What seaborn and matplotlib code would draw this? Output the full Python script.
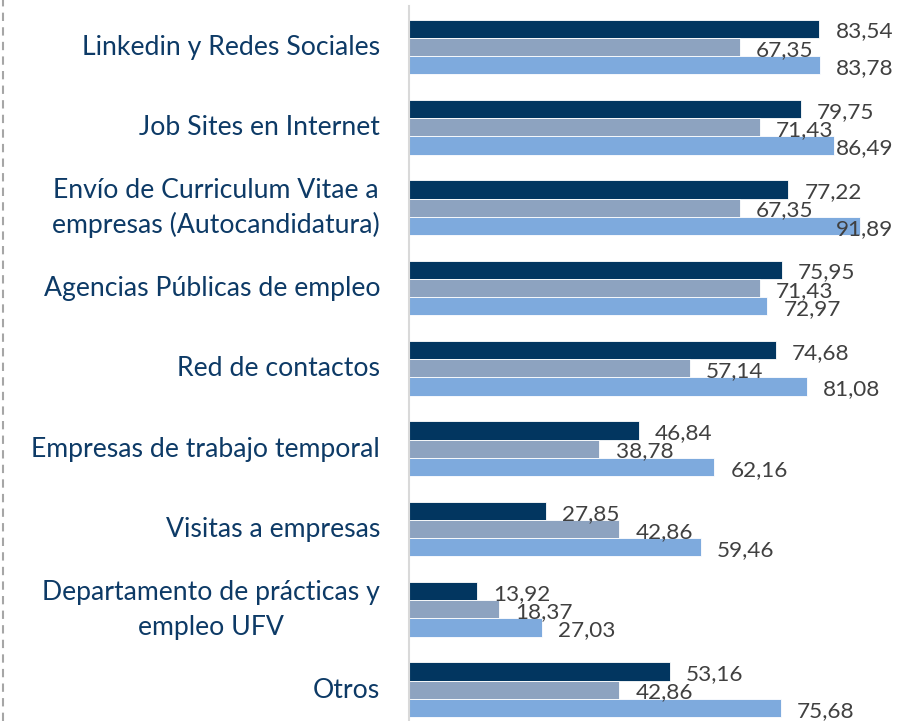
import numpy as np
import pandas as pd
import seaborn as sns
import matplotlib.pyplot as plt
import matplotlib.transforms as mtransforms
from matplotlib.lines import Line2D

# data
categorias = ['Linkedin y Redes Sociales', 'Job Sites en Internet',
              'Envío de Curriculum Vitae a\nempresas (Autocandidatura)',
              'Agencias Públicas de empleo', 'Red de contactos',
              'Empresas de trabajo temporal', 'Visitas a empresas',
              'Departamento de prácticas y\nempleo UFV', 'Otros']
serie_1 = [83.54, 79.75, 77.22, 75.95, 74.68, 46.84, 27.85, 13.92, 53.16]
serie_2 = [67.35, 71.43, 67.35, 71.43, 57.14, 38.78, 42.86, 18.37, 42.86]
serie_3 = [83.78, 86.49, 91.89, 72.97, 81.08, 62.16, 59.46, 27.03, 75.68]
series = ['Serie 1', 'Serie 2', 'Serie 3']

df = pd.DataFrame({'categoria': categorias * 3,
                   'valor': serie_1 + serie_2 + serie_3,
                   'serie': np.repeat(series, len(categorias))})

colores = ['#023660', '#8DA3C0', '#7EAADD']

fig = plt.figure(figsize=(9.01, 7.21), dpi=100)
ax = fig.add_axes([409 / 901, 0, 491 / 901, 715 / 721])

sns.barplot(data=df, y='categoria', x='valor', hue='serie', order=categorias,
            hue_order=series, palette=colores, width=0.68, orient='h',
            legend=False, ax=ax, errorbar=None, saturation=1)

# value labels, kept inside the plot area like Excel does
for cont in ax.containers:
    for b, v in zip(cont, cont.datavalues):
        b.set_edgecolor('white')
        b.set_linewidth(0.6)
        y = b.get_y() + b.get_height() / 2 + 0.035
        x = min(v + 3.3, 87.0)
        ax.text(x, y, f'{v:.2f}'.replace('.', ','), ha='left', va='center',
                fontsize=16.2, color='#404040', family='Lato')

ax.set_xlim(0, 100)
ax.set_ylim(8.39, -0.51)
ax.set_xlabel('')
ax.set_ylabel('')
ax.set_xticks([])
ax.set_yticks(range(len(categorias)), labels=[''] * len(categorias))
ax.tick_params(axis='y', length=0)

# category labels: each line centered, block right aligned 29 px left of the axis
renderer = fig.canvas.get_renderer()
ytrans = ax.get_yaxis_transform()
for i, cat in enumerate(categorias):
    lineas = cat.split('\n')
    textos = [ax.text(0, i, l, transform=ytrans, ha='center', va='baseline',
                      fontsize=19.2, color='#0D3A66', family='Lato')
              for l in lineas]
    maxw = max(t.get_window_extent(renderer).width for t in textos)
    n = len(lineas)
    for k, t in enumerate(textos):
        dy = 8 + (k - (n - 1) / 2) * 35
        t.set_transform(mtransforms.offset_copy(ytrans, fig=fig, x=-29 - maxw / 2,
                                                y=-dy, units='dots'))

for s in ['top', 'right', 'bottom']:
    ax.spines[s].set_visible(False)
ax.spines['left'].set_color('#D9D9D9')
ax.spines['left'].set_linewidth(1.5)

# dashed frame edge on the left
fig.add_artist(Line2D([3 / 901, 3 / 901], [0, 1], color='#A6A6A6', lw=1.5,
                      ls=(0, (4, 3)), transform=fig.transFigure))

fig.savefig('out.png', dpi=100)
